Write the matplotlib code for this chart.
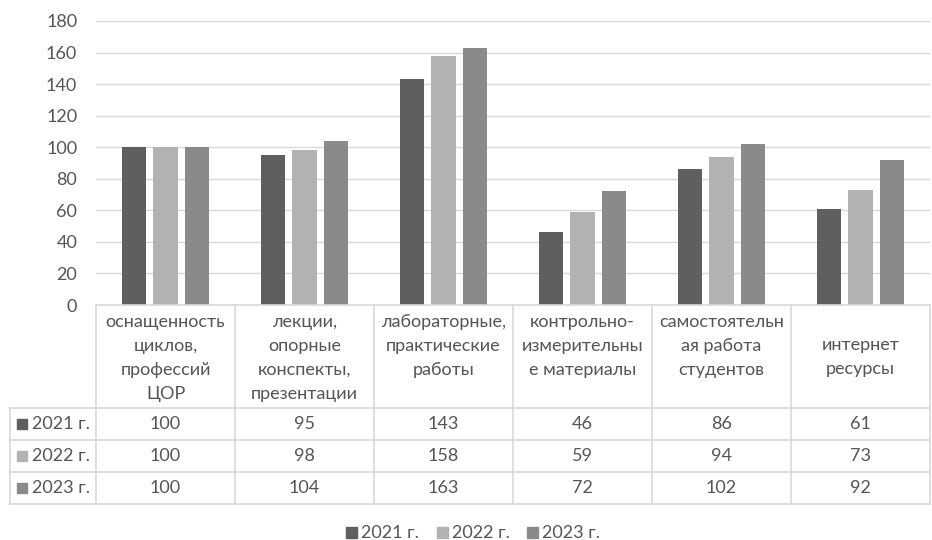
import matplotlib
matplotlib.use("Agg")
import matplotlib.pyplot as plt
from matplotlib.transforms import blended_transform_factory
from matplotlib.patches import Rectangle
import numpy as np

categories = [
    ["оснащенность", "циклов,", "профессий", "ЦОР"],
    ["лекции,", "опорные", "конспекты,", "презентации"],
    ["лабораторные,", "практические", "работы"],
    ["контрольно-", "измерительны", "е материалы"],
    ["самостоятельн", "ая работа", "студентов"],
    ["интернет", "ресурсы"],
]
series_names = ["2021 г.", "2022 г.", "2023 г."]
values_2021 = [100, 95, 143, 46, 86, 61]
values_2022 = [100, 98, 158, 59, 94, 73]
values_2023 = [100, 104, 163, 72, 102, 92]
series_values = [values_2021, values_2022, values_2023]
colors = ["#5f5f5f", "#b2b2b2", "#8a8a8a"]

W, H = 932, 540
fig = plt.figure(figsize=(W / 100, H / 100), dpi=100)
fig.patch.set_facecolor("white")

FONT = "Lato"
TXT = "#555555"
GRID = "#d9d9d9"
FS = 13

left, right = 96, 930
top_px, zero_px = 21, 305
ax = fig.add_axes([left / W, 1 - zero_px / H, (right - left) / W, (zero_px - top_px) / H])
ax.set_xlim(-0.5, len(categories) - 0.5)
ax.set_ylim(0, 180)
ax.set_yticks(np.arange(0, 181, 20))
ax.set_xticks([])
for s in ax.spines.values():
    s.set_visible(False)
ax.yaxis.grid(True, color=GRID, linewidth=1)
ax.set_axisbelow(True)
ax.tick_params(axis="y", length=0, pad=13.5, labelcolor=TXT, labelsize=FS)
for lab in ax.get_yticklabels():
    lab.set_fontfamily(FONT)

x = np.arange(len(categories))
bw, step = 0.175, 0.225
for i, (vals, c) in enumerate(zip(series_values, colors)):
    ax.bar(x + (i - 1) * step, vals, width=bw, color=c, zorder=3)

# data table below the plot
tr = blended_transform_factory(ax.transData, fig.transFigure)
def fy(py):
    return 1 - py / H

row_edges = [305, 408, 440, 472, 504]
lw = 1.2
for k, yy in enumerate(row_edges):
    fig.add_artist(plt.Line2D([10 / W if k > 0 else left / W, right / W], [fy(yy), fy(yy)],
                              color=GRID, linewidth=lw, transform=fig.transFigure))
for b in np.arange(-0.5, len(categories) + 0.5, 1.0):
    fig.add_artist(plt.Line2D([b, b], [fy(305), fy(504)], color=GRID, linewidth=lw, transform=tr))
fig.add_artist(plt.Line2D([10 / W, 10 / W], [fy(408), fy(504)], color=GRID, linewidth=lw,
                          transform=fig.transFigure))

# category header text
line_gap = 24
for ci, lines in enumerate(categories):
    n = len(lines)
    y0 = 322 if n >= 3 else 345
    for li, t in enumerate(lines):
        fig.text(ci, fy(y0 + li * line_gap), t, transform=tr, ha="center", va="center",
                 fontsize=FS, color=TXT, fontfamily=FONT)

# values and row labels
row_centers = [424, 456, 488]
for ri, (name, vals, c) in enumerate(zip(series_names, series_values, colors)):
    yc = row_centers[ri]
    for ci, v in enumerate(vals):
        fig.text(ci, fy(yc), str(v), transform=tr, ha="center", va="center",
                 fontsize=FS, color=TXT, fontfamily=FONT)
    fig.add_artist(Rectangle((17 / W, fy(yc + 5)), 10 / W, 10 / H, transform=fig.transFigure,
                             color=c))
    fig.text(32 / W, fy(yc), name, ha="left", va="center", fontsize=FS, color=TXT, fontfamily=FONT)

# legend
leg_x = [346, 437, 527]
for name, c, lx in zip(series_names, colors, leg_x):
    fig.add_artist(Rectangle((lx / W, fy(538)), 11 / W, 11 / H, transform=fig.transFigure, color=c))
    fig.text((lx + 15) / W, fy(533), name, ha="left", va="center", fontsize=FS, color=TXT,
             fontfamily=FONT)

fig.savefig("out.png", dpi=100, facecolor="white")
